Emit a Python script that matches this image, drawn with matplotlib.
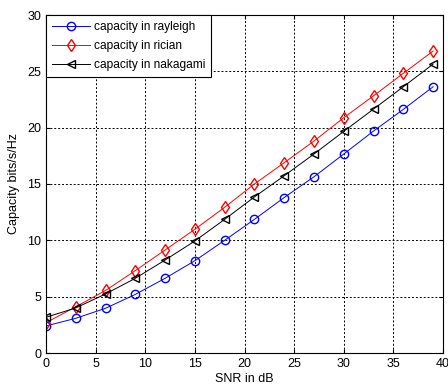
import matplotlib
matplotlib.use("Agg")
import matplotlib.pyplot as plt

# Data
snr_db = [0, 3, 6, 9, 12, 15, 18, 21, 24, 27, 30, 33, 36, 39]
cap_rayleigh = [2.4, 3.08, 3.97, 5.2, 6.63, 8.19, 10.0, 11.86, 13.8, 15.64, 17.66, 19.7, 21.62, 23.63]
cap_rician = [2.69, 4.1, 5.55, 7.31, 9.14, 10.98, 12.93, 15.0, 16.89, 18.81, 20.88, 22.83, 24.82, 26.8]
cap_nakagami = [3.17, 4.0, 5.24, 6.63, 8.25, 9.94, 11.86, 13.85, 15.73, 17.66, 19.67, 21.65, 23.63, 25.64]

plt.rcParams['font.family'] = ['Liberation Sans', 'DejaVu Sans']
plt.rcParams['font.size'] = 9

fig = plt.figure(figsize=(4.48, 3.87), dpi=100)
ax = fig.add_axes([46 / 448, 34 / 387, 397 / 448, 338 / 387])

ax.plot(snr_db, cap_rayleigh, color="blue", marker="o", mfc="none", ms=6, lw=0.7, label="capacity in rayleigh")
ax.plot(snr_db, cap_rician, color="red", marker="d", mfc="none", ms=6.5, lw=0.7, label="capacity in rician")
ax.plot(snr_db, cap_nakagami, color="black", marker="<", mfc="none", ms=6, lw=0.7, label="capacity in nakagami")

ax.set_xlim(0, 40)
ax.set_ylim(0, 30)
ax.set_xticks(range(0, 41, 5))
ax.set_yticks(range(0, 31, 5))
ax.grid(True, color="black", linestyle=(0, (2, 2)), linewidth=0.7)
ax.tick_params(direction="in", top=True, right=True, length=3, labelsize=9)
for s in ax.spines.values():
    s.set_linewidth(0.8)

ax.set_xlabel("SNR in dB", labelpad=2)
ax.set_ylabel("Capacity bits/s/Hz", labelpad=5)

leg = ax.legend(loc="upper left", fancybox=False, framealpha=1, edgecolor="black",
                borderaxespad=0, handlelength=3.2, handletextpad=0.3, borderpad=0.5,
                labelspacing=0.6, fontsize=8.6)
leg.get_frame().set_linewidth(0.8)

fig.savefig("out.png", dpi=100)
